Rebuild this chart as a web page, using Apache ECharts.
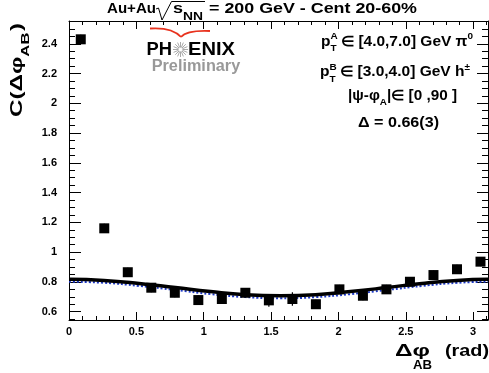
<!DOCTYPE html>
<html><head><meta charset="utf-8">
<script src="https://cdn.jsdelivr.net/npm/echarts@6/dist/echarts.min.js"></script>
<style>html,body{margin:0;padding:0;background:#fff}#c{width:489px;height:373px}</style>
</head><body><div id="c"></div>
<script>
// ---- data ----
const dphi = [0.0873,0.2618,0.4363,0.6109,0.7854,0.9599,1.1345,1.3090,1.4835,1.6581,1.8326,2.0071,2.1817,2.3562,2.5307,2.7053,2.8798,3.0543];
const corr = [2.430,1.160,0.865,0.761,0.727,0.678,0.685,0.727,0.676,0.685,0.650,0.750,0.707,0.750,0.801,0.846,0.885,0.936];
const corrErr = [0.03,0.03,0.03,0.03,0.03,0.03,0.03,0.03,0.043,0.045,0.03,0.03,0.03,0.03,0.03,0.03,0.03,0.03];
const fitX = [0,0.26,0.52,0.79,1.05,1.31,1.57,1.83,2.09,2.36,2.62,2.88,3.11];
const fitBlack = [0.817,0.810,0.790,0.762,0.735,0.714,0.707,0.714,0.735,0.762,0.790,0.810,0.817];
const fitBlue = [0.801,0.794,0.773,0.746,0.718,0.698,0.690,0.698,0.718,0.746,0.773,0.794,0.801];
const xMajor = [0,0.5,1,1.5,2,2.5,3];
const xMinor = [0.1,0.2,0.3,0.4,0.6,0.7,0.8,0.9,1.1,1.2,1.3,1.4,1.6,1.7,1.8,1.9,2.1,2.2,2.3,2.4,2.6,2.7,2.8,2.9,3.1];
const yMajor = [0.6,0.8,1.0,1.2,1.4,1.6,1.8,2.0,2.2,2.4];
const yMinor = [0.55,0.65,0.7,0.75,0.85,0.9,0.95,1.05,1.1,1.15,1.25,1.3,1.35,1.45,1.5,1.55,1.65,1.7,1.75,1.85,1.9,1.95,2.05,2.1,2.15,2.25,2.3,2.35,2.45,2.5,2.55];
const X_MIN = 0, X_MAX = 3.11, Y_MIN = 0.544, Y_MAX = 2.553;

// ---- helpers ----
const FONT = '"Liberation Sans", Arial, sans-serif';
const ctx = document.createElement('canvas').getContext('2d');
function tw(t, s){ ctx.font = 'bold ' + s + 'px ' + FONT; return ctx.measureText(t).width; }
function run(x, y, pieces, o) {
  o = o || {};
  let cx = 0; const children = [];
  pieces.forEach(p => {
    children.push({type:'text', x: cx + (p.dx||0), y: p.dy||0,
      style:{text:p.t, font:'bold ' + p.s + 'px ' + FONT, fill:p.c||'#000', verticalAlign:'middle', align:'left'}});
    if (!p.noAdv) cx += tw(p.t, p.s) + (p.dx||0);
  });
  let sx = 1;
  if (o.w) sx = o.w / cx;
  return {type:'group', x:x, y:y, rotation:o.rot||0, scaleX:sx, children:children};
}
const lbl = {fontFamily:FONT, fontWeight:'bold', fontSize:11, color:'#000'};
function fmt(v){ return String(Math.round(v*10)/10); }
function xAx(pos, vals, len, labels, line){
  return {type:'value', position:pos, min:X_MIN, max:X_MAX, gridIndex:0,
    axisLine:{show:line, onZero:false, lineStyle:{color:'#000', width:1}},
    axisTick:{show:true, inside:true, length:len, customValues:vals, lineStyle:{color:'#000', width:1}},
    axisLabel: labels ? Object.assign({show:true, customValues:vals, margin:6, formatter:fmt}, lbl) : {show:false},
    splitLine:{show:false}};
}
function yAx(pos, vals, len, labels, line){
  return {type:'value', position:pos, min:Y_MIN, max:Y_MAX, gridIndex:0,
    axisLine:{show:line, onZero:false, lineStyle:{color:'#000', width:1}},
    axisTick:{show:true, inside:true, length:len, customValues:vals, lineStyle:{color:'#000', width:1}},
    axisLabel: labels ? Object.assign({show:true, customValues:vals, margin:12, formatter:fmt}, lbl) : {show:false},
    splitLine:{show:false}};
}

// star rays for logo
const star = [];
for (let i = 0; i < 16; i++) {
  const a = i * Math.PI / 8;
  star.push({type:'line', shape:{x1:180.5+2*Math.cos(a), y1:49.5+2*Math.sin(a), x2:180.5+7.5*Math.cos(a), y2:49.5+7.5*Math.sin(a)}, style:{stroke:'#aaa', lineWidth:1}});
}

const chart = echarts.init(document.getElementById('c'), null, {renderer:'canvas'});
chart.setOption({
  animation:false,
  backgroundColor:'#fff',
  grid:{left:69, top:21, width:419, height:299, containLabel:false},
  xAxis:[xAx('bottom', xMajor, 8, true, true), xAx('bottom', xMinor, 4, false, false),
         xAx('top', xMajor, 8, false, true), xAx('top', xMinor, 4, false, false)],
  yAxis:[yAx('left', yMajor, 12, true, true), yAx('left', yMinor, 6, false, false),
         yAx('right', yMajor, 11, false, true), yAx('right', yMinor, 6, false, false)],
  series:[
    {type:'line', xAxisIndex:0, yAxisIndex:0, data:fitX.map((x,i)=>[x, fitBlue[i]]), smooth:true, showSymbol:false,
     lineStyle:{color:'#1c37c6', width:2, type:'dotted'}, z:1},
    {type:'line', xAxisIndex:0, yAxisIndex:0, data:fitX.map((x,i)=>[x, fitBlack[i]]), smooth:true, showSymbol:false,
     lineStyle:{color:'#000', width:3.5}, z:2},
    {type:'custom', xAxisIndex:0, yAxisIndex:0, z:3,
     data:dphi.map((x,i)=>[x, corr[i], corrErr[i]]),
     renderItem:function(p, api){
       const x = api.value(0), y = api.value(1), e = api.value(2);
       const a = api.coord([x, y - e]), b = api.coord([x, y + e]);
       return {type:'line', shape:{x1:a[0], y1:a[1], x2:b[0], y2:b[1]}, style:{stroke:'#000', lineWidth:1.2}};
     }},
    {type:'scatter', xAxisIndex:0, yAxisIndex:0, data:dphi.map((x,i)=>[x, corr[i]]), symbol:'rect', symbolSize:10,
     itemStyle:{color:'#000', opacity:1}, z:4}
  ],
  graphic:[
    // title
    run(107, 8.5, [{t:'Au+Au', s:15}], {w:49}),
    {type:'polyline', shape:{points:[[156,9],[158.5,8],[162,20],[171.5,1.5],[205,1.5]]}, style:{stroke:'#000', lineWidth:1, fill:null}},
    run(173, 8.5, [{t:'s', s:15}], {w:10}),
    run(183, 16.5, [{t:'NN', s:11}], {w:20}),
    run(209, 8.5, [{t:'= 200 GeV - Cent 20-60%', s:15}], {w:208}),
    // y title
    run(18, 117, [{t:'C(Δφ', s:16}, {t:'AB', s:11, dy:8}, {t:')', s:16, dx:1}], {rot:Math.PI/2, w:94}),
    // x title
    run(395, 351, [{t:'Δφ', s:17}], {w:35}),
    run(413, 366, [{t:'AB', s:12}], {w:19}),
    run(445, 351, [{t:'(rad)', s:17}], {w:44}),
    // annotations
    run(321, 42, [{t:'p', s:14}, {t:'A', s:9, dy:-5, noAdv:true}, {t:'T', s:9, dy:7}, {t:' ∈ [4.0,7.0] GeV π', s:14}, {t:'0', s:9, dy:-5}], {w:152}),
    run(320, 72.5, [{t:'p', s:14}, {t:'B', s:9, dy:-5, noAdv:true}, {t:'T', s:9, dy:7}, {t:' ∈ [3.0,4.0] GeV h', s:14}, {t:'±', s:9, dy:-5}], {w:150}),
    run(348, 96, [{t:'|ψ-φ', s:14}, {t:'A', s:9, dy:7}, {t:'|∈ [0 ,90 ]', s:14}], {w:109}),
    run(358, 123, [{t:'Δ = 0.66(3)', s:14}], {w:81}),
    // logo
    {type:'bezierCurve', shape:{x1:150, y1:28.5, cpx1:172, cpy1:27, x2:181, y2:37}, style:{stroke:'#e8321e', lineWidth:1.8, fill:null}},
    {type:'bezierCurve', shape:{x1:181, y1:37, cpx1:187, cpy1:30, x2:210, y2:31}, style:{stroke:'#e8321e', lineWidth:1.8, fill:null}},
    run(146.5, 49.7, [{t:'PH', s:19}], {w:25.5}),
    {type:'group', children:star},
    run(188, 49.7, [{t:'ENIX', s:19}], {w:47}),
    run(151.7, 66.5, [{t:'Preliminary', s:16, c:'#999'}], {w:88.5})
  ]
});
</script>
</body></html>
